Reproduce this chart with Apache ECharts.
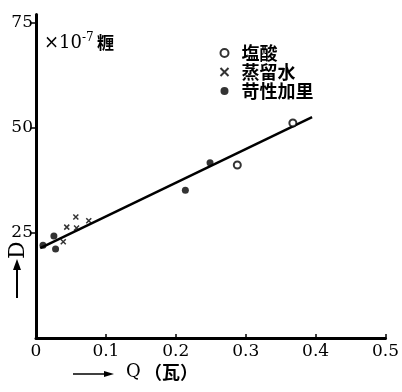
<!DOCTYPE html>
<html><head><meta charset="utf-8">
<script src="https://cdn.jsdelivr.net/npm/echarts@6/dist/echarts.min.js"></script>
<style>html,body{margin:0;padding:0;background:#fff}#c{width:402px;height:392px}</style>
</head><body><div id="c"></div>
<script>
var xTicks = [0, 0.1, 0.2, 0.3, 0.4, 0.5];
var yTicks = [25, 50, 75];
var seriesNames = ['塩酸', '蒸留水', '苛性加里'];
var hclData = [[0.3675, 51.2], [0.288, 41.2]];
var waterData = [[0.057, 28.8], [0.044, 26.4], [0.058, 26.2], [0.0755, 27.9], [0.039, 22.9]];
var kohData = [[0.249, 41.7], [0.2137, 35.2], [0.0256, 24.3], [0.028, 21.2], [0.010, 22.1]];
var fitLine = [[0.006, 21.4], [0.395, 52.6]];

var chart = echarts.init(document.getElementById('c'));
var serif = 'DejaVu Serif';
var cjk = 'Noto Sans CJK JP';
var crossPath = 'path://M0,0L10,10M10,0L0,10';
chart.setOption({
  animation: false,
  grid: {left: 36, right: 15, top: 14.6, bottom: 54},
  xAxis: {
    type: 'value', min: 0, max: 0.5, interval: 0.1,
    axisLine: {lineStyle: {color: '#000', width: 3}},
    axisTick: {inside: true, length: 4, lineStyle: {color: '#000', width: 1.5}},
    splitLine: {show: false},
    axisLabel: {color: '#000', fontFamily: serif, fontSize: 17, margin: 5,
      formatter: function (v) { return v === 0 ? '0' : v.toFixed(1); }}
  },
  yAxis: {
    type: 'value', min: 0, max: 77, interval: 25,
    axisLine: {lineStyle: {color: '#000', width: 3}},
    axisTick: {customValues: yTicks, length: 5, lineStyle: {color: '#000', width: 1.5}},
    splitLine: {show: false},
    axisLabel: {customValues: yTicks, color: '#000', fontFamily: serif, fontSize: 17, margin: 3}
  },
  legend: {
    orient: 'vertical', left: 213, top: 39, itemGap: 1, itemWidth: 8, itemHeight: 8,
    textStyle: {fontFamily: cjk, fontSize: 18, lineHeight: 18, fontWeight: 'bold', color: '#000', padding: [0, 0, 0, 8]},
    data: seriesNames
  },
  series: [
    {name: seriesNames[0], type: 'scatter', data: hclData, symbol: 'emptyCircle', symbolSize: 7,
      itemStyle: {color: '#000', borderColor: '#000', borderWidth: 1.8}},
    {name: seriesNames[1], type: 'scatter', data: waterData, symbol: crossPath, symbolSize: 5,
      itemStyle: {color: 'none', borderColor: '#000', borderWidth: 1.5}},
    {name: seriesNames[2], type: 'scatter', data: kohData, symbol: 'circle', symbolSize: 7,
      itemStyle: {color: '#000'}},
    {type: 'line', data: fitLine, symbol: 'none', lineStyle: {color: '#000', width: 2.5}, z: 1}
  ],
  graphic: [
    {type: 'text', left: 44, top: 32, style: {
      rich: {
        a: {fontFamily: serif, fontSize: 18, fill: '#000'},
        s: {fontFamily: serif, fontSize: 12, fill: '#000', verticalAlign: 'top', padding: [0, 0, 10, 0]},
        b: {fontFamily: cjk, fontSize: 17, fontWeight: 'bold', fill: '#000'}
      },
      text: '{a|×10}{s|-7} {b|糎}'
    }},
    {type: 'text', x: 7, y: 259, rotation: Math.PI / 2, style: {
      text: 'D', font: '22px DejaVu Serif', fill: '#000'}},
    {type: 'line', shape: {x1: 17, y1: 298, x2: 17, y2: 268}, style: {stroke: '#000', lineWidth: 2}},
    {type: 'polygon', shape: {points: [[13, 270], [21, 270], [17, 259]]}, style: {fill: '#000'}},
    {type: 'line', shape: {x1: 73, y1: 374, x2: 106, y2: 374}, style: {stroke: '#000', lineWidth: 1.5}},
    {type: 'polygon', shape: {points: [[104, 371], [104, 377], [114, 374]]}, style: {fill: '#000'}},
    {type: 'text', left: 126, top: 363, style: {
      rich: {
        q: {fontFamily: serif, fontSize: 18, fill: '#000'},
        c: {fontFamily: cjk, fontSize: 18, fontWeight: 'bold', fill: '#000'}
      },
      text: '{q|Q} {c|（瓦）}'
    }}
  ]
});
</script></body></html>
